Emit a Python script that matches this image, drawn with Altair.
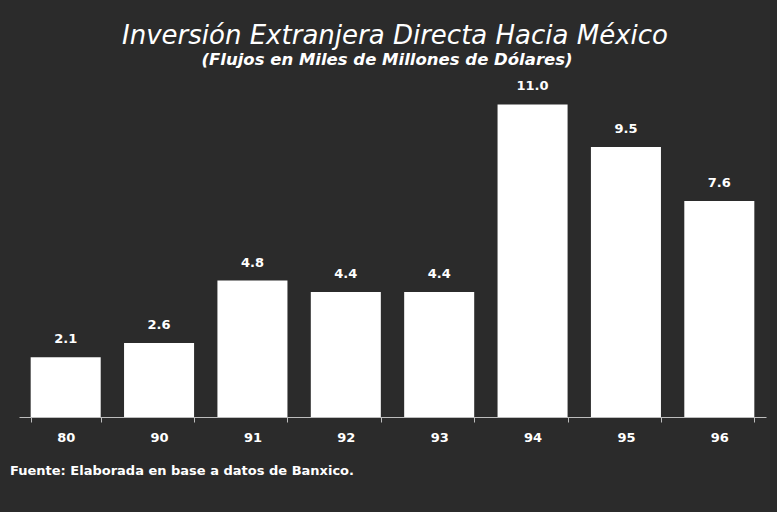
import altair as alt
import pandas as pd

years = ["80", "90", "91", "92", "93", "94", "95", "96"]
values = [2.1, 2.6, 4.8, 4.4, 4.4, 11.0, 9.5, 7.6]

title_text = "Inversión Extranjera Directa Hacia México"
subtitle_text = "(Flujos en Miles de Millones de Dólares)"
source_text = "Fuente: Elaborada en base a datos de Banxico."

df = pd.DataFrame({"year": years, "value": values})
FONT = "DejaVu Sans"

base = alt.Chart(df)

x = alt.X("year:N", sort=years, title=None,
          scale=alt.Scale(paddingInner=0.25, paddingOuter=0.125),
          axis=alt.Axis(labelAngle=0, labelColor="white", labelFont=FONT,
                        labelFontSize=13, labelFontWeight="bold", labelPadding=9,
                        domainColor="#bdbdbd", tickColor="#bdbdbd", tickSize=5,
                        tickBand="extent", domainWidth=1))
y = alt.Y("value:Q", title=None, scale=alt.Scale(domain=[0, 12], nice=False),
          axis=None)

bars = base.mark_bar(color="white").encode(x=x, y=y)
labels = base.mark_text(dy=-11, color="white", font=FONT, fontSize=13,
                        fontWeight="bold", baseline="bottom").encode(
    x=alt.X("year:N", sort=years), y="value:Q",
    text=alt.Text("value:Q", format=".1f"))

one = alt.Data(values=[{"a": 1}])
title = alt.Chart(one).mark_text(text=title_text, color="white", font=FONT,
                                 fontSize=26, fontStyle="italic",
                                 align="center", baseline="alphabetic").encode(
    x=alt.value(376), y=alt.value(-32))
subtitle = alt.Chart(one).mark_text(text=subtitle_text, color="white", font=FONT,
                                    fontSize=16.5, fontStyle="italic", fontWeight="bold",
                                    align="center", baseline="alphabetic").encode(
    x=alt.value(368), y=alt.value(-11))
source = alt.Chart(one).mark_text(text=source_text, color="white", font=FONT,
                                  fontSize=13, fontWeight="bold",
                                  align="left", baseline="alphabetic").encode(
    x=alt.value(-9), y=alt.value(399))

chart = alt.layer(bars, labels, title, subtitle, source).properties(
    width=747, height=341,
    background="#2b2b2b",
    padding={"left": 19, "top": 76, "right": 11, "bottom": 95},
    autosize=alt.AutoSizeParams(type="none"),
).configure_view(stroke=None)

chart.save("out.html", embed_options={"renderer": "svg", "actions": False})
